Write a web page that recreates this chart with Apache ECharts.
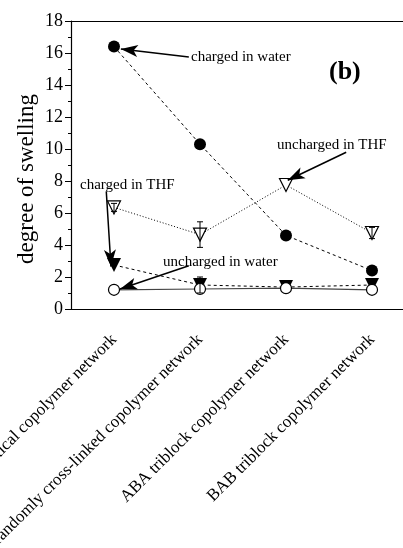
<!DOCTYPE html>
<html lang="en">
<head>
  <meta charset="UTF-8">
  <title>degree of swelling</title>
  <script src="https://cdn.jsdelivr.net/npm/echarts@6/dist/echarts.min.js"></script>
  <style>
    body{margin:0;background:#fff;}
    #chart{width:403px;height:548px;}
  </style>
</head>
<body>
<div id="chart"></div>
<script>
  // categories
  let networks = [
    "statistical copolymer network",
    "randomly cross-linked copolymer network",
    "ABA triblock copolymer network",
    "BAB triblock copolymer network"
  ];
  // series values
  let chargedWater = [16.4, 10.3, 4.6, 2.4];
  let unchargedTHF = [6.35, 4.65, 7.75, 4.75];
  let unchargedTHFErr = [0.25, 0.8, 0, 0.35];
  let chargedTHF = [2.75, 1.5, 1.37, 1.5];
  let chargedTHFErr = [0, 0.5, 0, 0];
  let unchargedWater = [1.2, 1.25, 1.3, 1.2];
  let yTicks = [0, 2, 4, 6, 8, 10, 12, 14, 16, 18];

  // annotation arrows: [from x, from y, to x, to y] in data units (x = category index)
  let arrows = [
    [0.87, 15.75, 0.08, 16.25],
    [2.70, 9.80, 2.02, 8.05],
    [-0.09, 7.35, -0.035, 2.65],
    [0.87, 2.70, 0.07, 1.25]
  ];

  let serif = "Liberation Serif";

  function errData(vals, errs) {
    let out = [];
    for (let i = 0; i < vals.length; i++) {
      if (errs[i] > 0) out.push([i, vals[i], errs[i]]);
    }
    return out;
  }

  function errRender(params, api) {
    let x = api.value(0), y = api.value(1), e = api.value(2);
    let top = api.coord([x, y + e]);
    let bot = api.coord([x, y - e]);
    let st = {stroke: "#000", lineWidth: 1};
    return {
      type: "group",
      children: [
        {type: "line", shape: {x1: top[0], y1: top[1], x2: bot[0], y2: bot[1]}, style: st},
        {type: "line", shape: {x1: top[0] - 3, y1: top[1], x2: top[0] + 3, y2: top[1]}, style: st},
        {type: "line", shape: {x1: bot[0] - 3, y1: bot[1], x2: bot[0] + 3, y2: bot[1]}, style: st}
      ]
    };
  }

  let arrowLines = arrows.map(a => [
    {coord: [a[0], a[1]], symbol: "none"},
    {coord: [a[2], a[3]], symbol: "arrow", symbolSize: [9, 17]}
  ]);

  function note(text, x, y, size, bold) {
    return {
      type: "text", x: x, y: y, silent: true,
      style: {
        text: text, fill: "#000",
        font: (bold ? "bold " : "") + size + "px '" + serif + "'",
        verticalAlign: "middle"
      }
    };
  }

  let myChart = echarts.init(document.getElementById("chart"));
  let option = {
    animation: false,
    backgroundColor: "#fff",
    grid: {left: 71, top: 21, width: 344, height: 288, containLabel: false, outerBoundsMode: "none"},
    xAxis: [
      {
        type: "category",
        data: networks,
        boundaryGap: true,
        axisLine: {lineStyle: {color: "#000", width: 1.2}},
        axisTick: {alignWithLabel: true, length: 6, lineStyle: {color: "#000"}},
        axisLabel: {
          rotate: 45, interval: 0, margin: 28,
          fontFamily: serif, fontSize: 17, color: "#000"
        },
        splitLine: {show: false}
      },
      {
        type: "category",
        data: networks,
        position: "top",
        boundaryGap: true,
        axisLine: {lineStyle: {color: "#000", width: 1.2}},
        axisTick: {alignWithLabel: true, inside: true, length: 6, lineStyle: {color: "#000"}},
        axisLabel: {show: false},
        splitLine: {show: false}
      },
      {
        type: "value", min: -0.5, max: 3.5, show: false
      }
    ],
    yAxis: {
      type: "value",
      min: yTicks[0], max: yTicks[yTicks.length - 1], interval: 2,
      name: "degree of swelling",
      nameLocation: "middle", nameGap: 33, nameMoveOverlap: false,
      nameTextStyle: {fontFamily: serif, fontSize: 23, color: "#000", padding: [0, 28, 0, 0]},
      axisLine: {show: true, onZero: false, lineStyle: {color: "#000", width: 1.2}},
      axisTick: {show: true, length: 6, lineStyle: {color: "#000"}},
      minorTick: {show: true, splitNumber: 2, length: 3, lineStyle: {color: "#000"}},
      axisLabel: {fontFamily: serif, fontSize: 18, color: "#000", margin: 8},
      splitLine: {show: false}
    },
    series: [
      {
        name: "charged in water", type: "line", data: chargedWater,
        symbol: "circle", symbolSize: 12,
        itemStyle: {color: "#000"},
        lineStyle: {color: "#000", width: 1, type: [3, 3]},
        z: 3
      },
      {
        name: "uncharged in THF", type: "line", data: unchargedTHF,
        symbol: "triangle", symbolRotate: 180, symbolSize: 13,
        itemStyle: {color: "#fff", borderColor: "#000", borderWidth: 1.2},
        lineStyle: {color: "#000", width: 1, type: [1, 2]},
        z: 3
      },
      {
        name: "charged in THF", type: "line", data: chargedTHF,
        symbol: "triangle", symbolRotate: 180, symbolSize: 14,
        itemStyle: {color: "#000"},
        lineStyle: {color: "#000", width: 1, type: [3, 3]},
        z: 3
      },
      {
        name: "uncharged in water", type: "line", data: unchargedWater,
        symbol: "circle", symbolSize: 11,
        itemStyle: {color: "#fff", borderColor: "#000", borderWidth: 1.2},
        lineStyle: {color: "#444", width: 1.2},
        z: 3
      },
      {
        type: "custom", renderItem: errRender, z: 4,
        data: errData(unchargedTHF, unchargedTHFErr)
      },
      {
        type: "custom", renderItem: errRender, z: 4,
        data: errData(chargedTHF, chargedTHFErr)
      },
      {
        type: "line", xAxisIndex: 2, data: [], silent: true, z: 5,
        markLine: {
          silent: true, animation: false,
          label: {show: false},
          lineStyle: {color: "#000", width: 1.5, type: "solid"},
          data: arrowLines
        }
      }
    ],
    graphic: [
      note("charged in water", 191, 57, 15),
      note("(b)", 329, 72, 26, true),
      note("uncharged in THF", 277, 145, 15),
      note("charged in THF", 80, 185, 15),
      note("uncharged in water", 163, 262, 15)
    ]
  };
  myChart.setOption(option, true);
  window.addEventListener("resize", function () {
    myChart.resize();
  });
</script>
</body>
</html>
